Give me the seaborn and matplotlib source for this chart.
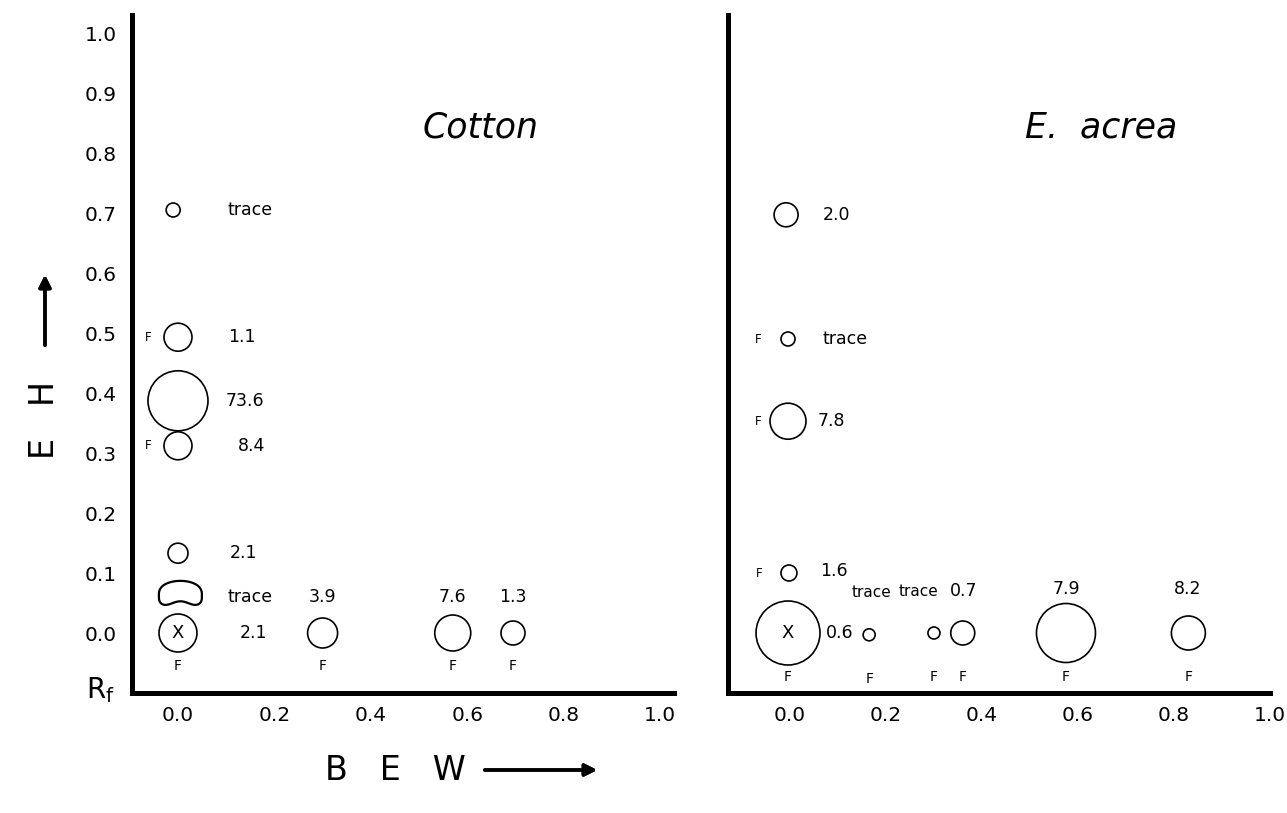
import numpy as np
import pandas as pd
import seaborn as sns
import matplotlib.pyplot as plt
from matplotlib.path import Path

sns.set_theme(style='white')
plt.rcParams['font.family'] = ['DejaVu Sans']
plt.rcParams['text.color'] = 'black'
plt.rcParams['xtick.color'] = 'black'
plt.rcParams['ytick.color'] = 'black'

# Cotton spots: BEW Rf, EH Rf, percent, spot diameter (px), fluorescence mark
cot_bew = [-0.01, 0.0, 0.0, 0.0, 0.0, 0.005, 0.0, 0.30, 0.57, 0.695]
cot_eh = [0.705, 0.493, 0.387, 0.312, 0.133, 0.06, 0.0, 0.0, 0.0, 0.0]
cot_pct = ['trace', '1.1', '73.6', '8.4', '2.1', 'trace', '2.1', '3.9', '7.6', '1.3']
cot_spot = [14, 28, 60, 28, 20, 43, 38, 30, 36, 24]
cot_fl = ['', 'L', '', 'L', '', '', 'B', 'B', 'B', 'B']
cot_kind = ['o', 'o', 'o', 'o', 'o', 'bean', 'x', 'o', 'o', 'o']

# E. acrea spots
acr_bew = [-0.008, -0.004, -0.004, -0.002, -0.004, 0.165, 0.30, 0.36, 0.575, 0.83]
acr_eh = [0.697, 0.49, 0.353, 0.10, 0.0, -0.003, 0.0, 0.0, 0.0, 0.0]
acr_pct = ['2.0', 'trace', '7.8', '1.6', '0.6', 'trace', 'trace', '0.7', '7.9', '8.2']
acr_spot = [24, 14, 36, 16, 64, 12, 12, 24, 59, 34]
acr_fl = ['', 'L', 'L', 'L', 'B', 'B', 'B', 'B', 'B', 'B']
acr_kind = ['o', 'o', 'o', 'o', 'x', 'o', 'o', 'o', 'o', 'o']

ticks_x = [0.0, 0.2, 0.4, 0.6, 0.8, 1.0]
ticks_y = [0.0, 0.1, 0.2, 0.3, 0.4, 0.5, 0.6, 0.7, 0.8, 0.9, 1.0]

# label offsets in pixels from the spot centre (image down = positive)
cot_ldx = [54, 50, 48, 60, 52, 47, 62, 0, 0, 0]
cot_ldy = [0, 0, 0, 0, 0, 0, 0, -36, -36, -36]
acr_ldx = [37, 34, 30, 31, 38, 2, -15, 1, 0, -1]
acr_ldy = [0, 0, 0, -2, 0, -42, -42, -42, -44, -44]

# bean shaped marker for the streaky spot
t = np.linspace(0, np.pi, 60)
top = np.column_stack([np.cos(t), 0.1 + 0.65 * np.sin(t) ** 0.8])
bot = np.column_stack([-np.cos(t), 0.1 - 0.6 * np.sin(t) ** 0.5 + 0.3 * np.sin(t) ** 6])
bean = Path(np.vstack([top, bot, top[:1]]), closed=True)

fig = plt.figure(figsize=(12.87, 8.13), dpi=100)
W, H = 1287, 813


def panel(px_left, xlim, bew, eh, pct, spot, fl, kind, ldx, ldy, title, tx,
          fdy, show_y):
    ax = fig.add_axes([px_left / W, 1 - 693 / H, 542 / W, 678 / H])
    df = pd.DataFrame({'bew': bew, 'eh': eh, 'pct': pct, 'spot': spot,
                       'fl': fl, 'kind': kind})
    circ = df[df['kind'] != 'bean']
    sns.scatterplot(data=circ, x='bew', y='eh', ax=ax, marker='o',
                    s=((circ['spot'] * 0.72) ** 2).values,
                    facecolor='none', edgecolor='black', linewidth=1.2,
                    legend=False, zorder=3)
    bn = df[df['kind'] == 'bean']
    if len(bn):
        sns.scatterplot(data=bn, x='bew', y='eh', ax=ax, marker=bean,
                        s=((bn['spot'] * 0.72) ** 2).values,
                        facecolor='none', edgecolor='black', linewidth=1.6,
                        legend=False, zorder=3)
    for i, r in df.iterrows():
        if r['kind'] == 'x':
            ax.annotate('X', (r['bew'], r['eh']), ha='center', va='center',
                        fontsize=13)
        above = abs(ldy[i]) > 10
        fs = 11 if (above and r['pct'] == 'trace') else 12.5
        ax.annotate(r['pct'], (r['bew'], r['eh']), xytext=(ldx[i], -ldy[i]),
                    textcoords='offset pixels', ha='center' if above else 'left',
                    va='center', fontsize=fs)
        if r['fl'] == 'L':
            ax.annotate('F', (r['bew'], r['eh']), xytext=(-30, 0),
                        textcoords='offset pixels', ha='center', va='center',
                        fontsize=8.5)
        elif r['fl'] == 'B':
            ax.annotate('F', (r['bew'], r['eh']), xytext=(0, -fdy),
                        textcoords='offset pixels', ha='center', va='center',
                        fontsize=10)
    ax.set_xlim(xlim)
    ax.set_ylim(-0.1, 1.03)
    ax.set_xticks(ticks_x)
    ax.set_xticklabels(['%.1f' % v for v in ticks_x], fontsize=14.5)
    if show_y:
        ax.set_yticks(ticks_y)
        ax.set_yticklabels(['%.1f' % v for v in ticks_y], fontsize=14.5)
    else:
        ax.set_yticks([])
    ax.tick_params(axis='both', length=0)
    ax.tick_params(axis='x', pad=9)
    ax.tick_params(axis='y', pad=11)
    ax.set_xlabel('')
    ax.set_ylabel('')
    for s in ['top', 'right']:
        ax.spines[s].set_visible(False)
    for s in ['left', 'bottom']:
        ax.spines[s].set_linewidth(3.6)
        ax.spines[s].set_color('black')
    ax.patch.set_alpha(0)
    fig.text(tx / W, 1 - 128 / H, title, ha='center', va='center',
             fontsize=25, style='italic')
    return ax


panel(132, (-0.0954, 1.029), cot_bew, cot_eh, cot_pct, cot_spot, cot_fl,
      cot_kind, cot_ldx, cot_ldy, 'Cotton', 481, 33, True)
panel(728, (-0.129, 1.0), acr_bew, acr_eh, acr_pct, acr_spot, acr_fl,
      acr_kind, acr_ldx, acr_ldy, 'E.  acrea', 1101, 44, False)

# axis captions with arrows
fig.text(45 / W, 1 - 420 / H, 'E   H', rotation=90, ha='center', va='center',
         fontsize=24)
fig.text(395 / W, 1 - 770 / H, 'B   E   W', ha='center', va='center', fontsize=24)
fig.text(100 / W, 1 - 690 / H, 'R$_\\mathregular{f}$', ha='center', va='center',
         fontsize=20)
fig.add_artist(plt.annotate('', xy=(45 / W, 1 - 272 / H), xytext=(45 / W, 1 - 348 / H),
                            xycoords='figure fraction', textcoords='figure fraction',
                            arrowprops=dict(arrowstyle='-|>', lw=2.5, color='black',
                                            mutation_scale=18)))
fig.add_artist(plt.annotate('', xy=(600 / W, 1 - 770 / H), xytext=(482 / W, 1 - 770 / H),
                            xycoords='figure fraction', textcoords='figure fraction',
                            arrowprops=dict(arrowstyle='-|>', lw=2.5, color='black',
                                            mutation_scale=18)))

plt.savefig('out.png', dpi=100)
